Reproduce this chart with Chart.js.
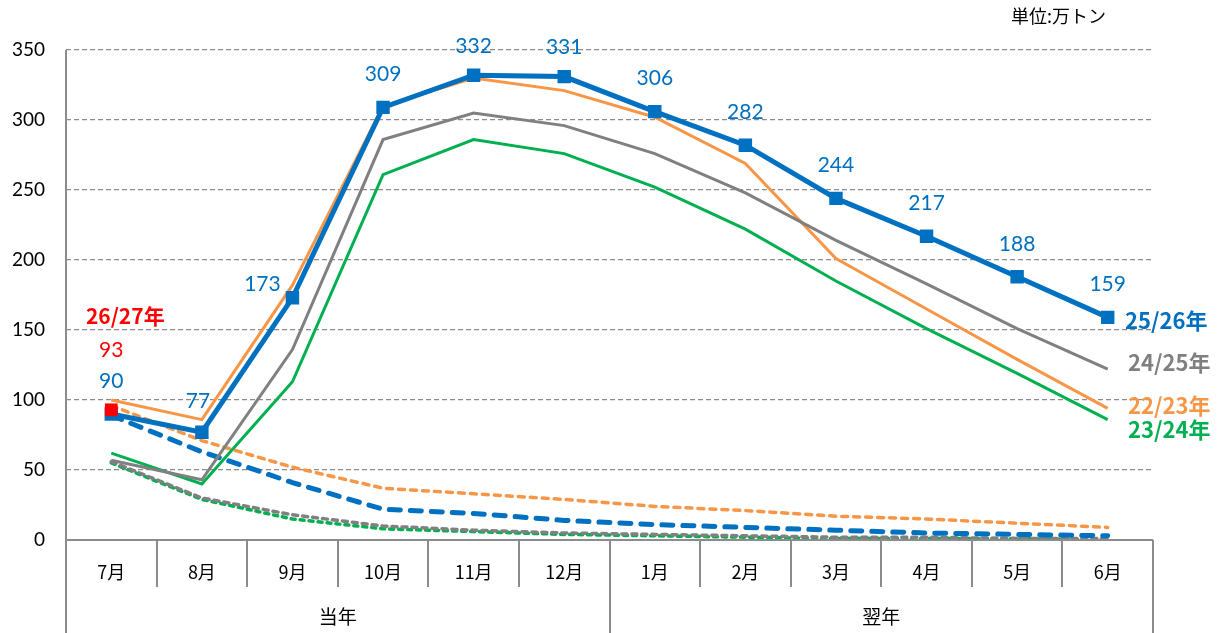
<!DOCTYPE html>
<html><head><meta charset="utf-8">
<script src="https://cdn.jsdelivr.net/npm/chart.js@4"></script>
<style>html,body{margin:0;padding:0;background:#fff;}#wrap{width:1218px;height:633px;position:relative;}</style>
</head><body><div id="wrap"><canvas id="c" width="1218" height="633"></canvas></div>
<script>
const months = ['7月','8月','9月','10月','11月','12月','1月','2月','3月','4月','5月','6月'];
const groups = ['当年','翌年'];
const yTicks = [0,50,100,150,200,250,300,350];
const s2526 = [90,77,173,309,332,331,306,282,244,217,188,159];
const s2425 = [57,43,136,286,305,296,276,248,214,183,151,122];
const s2223 = [100,86,182,310,330,321,302,269,201,165,129,94];
const s2324 = [62,40,113,261,286,276,252,222,185,151,119,86];
const d2223 = [96,71,52,37,33,29,24,21,17,15,12,9];
const d2526 = [89,63,41,22,19,14,11,9,7,5,4,3];
const d2425 = [56,30,18,10,7,5,4,3,2,2,1,1];
const d2324 = [55,29,15,8,6,4,3,2,1,1,1,0];
const s2627 = [93,null,null,null,null,null,null,null,null,null,null,null];
const seriesNames = ['25/26年','24/25年','22/23年','23/24年','26/27年'];
const unitText = '単位:万トン';

const BLUE='#0070C0', ORANGE='#F79646', GRAY='#808080', GREEN='#00B050', RED='#FF0000';
const FONT = "Lato, 'Noto Sans CJK JP', sans-serif";
const JFONT = "'Noto Sans CJK JP', sans-serif";

function ln(data,color,width,order,dash){
  return {data, borderColor:color, backgroundColor:color, borderWidth:width, pointRadius:0, order, borderDash:dash||[], tension:0, spanGaps:false, borderCapStyle:dash?'round':'butt'};
}
const datasets = [
  ln(d2324,GREEN,3.5,9,[4,5]),
  ln(d2425,GRAY,3.5,8,[5,5]),
  ln(d2223,ORANGE,3.5,7,[6,6]),
  ln(d2526,BLUE,5,6,[11,10]),
  ln(s2324,GREEN,3,5),
  ln(s2223,ORANGE,3,4),
  ln(s2425,GRAY,3,3),
  Object.assign(ln(s2526,BLUE,5,2),{pointRadius:9.5,pointStyle:'rect',pointBorderWidth:0}),
  Object.assign(ln(s2627,RED,2,1),{pointRadius:9,pointStyle:'rect',pointBorderWidth:0})
];

const overlay = {
  id:'overlay',
  afterDraw(chart){
    const ctx=chart.ctx, x=chart.scales.x, y=chart.scales.y, a=chart.chartArea;
    const n=months.length, w=(a.right-a.left)/n;
    ctx.save();
    ctx.strokeStyle='#8c8c8c'; ctx.lineWidth=2; ctx.setLineDash([]);
    ctx.beginPath(); ctx.moveTo(a.left,a.bottom); ctx.lineTo(a.right,a.bottom); ctx.stroke();
    ctx.beginPath(); ctx.moveTo(a.left,a.top); ctx.lineTo(a.left,633); ctx.stroke();
    for(let i=1;i<=n;i++){
      const bx=Math.round(a.left+i*w);
      const full=(i===6||i===12);
      ctx.beginPath(); ctx.moveTo(bx,a.bottom); ctx.lineTo(bx,full?633:a.bottom+47); ctx.stroke();
    }
    ctx.fillStyle='#000'; ctx.textAlign='center'; ctx.textBaseline='middle';
    ctx.font='18px '+JFONT;
    months.forEach((m,i)=>ctx.fillText(m,x.getPixelForValue(i),a.bottom+32));
    ctx.font='19px '+JFONT;
    ctx.fillText(groups[0],a.left+3*w,a.bottom+77);
    ctx.fillText(groups[1],a.left+9*w,a.bottom+77);
    ctx.font='21px '+FONT; ctx.fillStyle=BLUE;
    s2526.forEach((v,i)=>{
      let px=x.getPixelForValue(i), py=y.getPixelForValue(v)-33;
      if(i===1){px-=4;py+=2;}
      if(i===2){px-=30;py+=19;}
      if(i===4||i===5){py+=4;}
      ctx.fillText(String(v),px,py);
    });
    ctx.fillStyle=RED;
    ctx.fillText(String(s2627[0]),x.getPixelForValue(0),y.getPixelForValue(s2627[0])-60);
    ctx.font='bold 21px '+JFONT;
    ctx.fillText(seriesNames[4],x.getPixelForValue(0)+14,y.getPixelForValue(s2627[0])-94);
    ctx.textAlign='left';
    ctx.font='bold 22px '+JFONT;
    const ex=a.right-28;
    ctx.fillStyle=BLUE; ctx.fillText(seriesNames[0],ex,y.getPixelForValue(s2526[11])+3);
    ctx.fillStyle=GRAY; ctx.fillText(seriesNames[1],ex+3,y.getPixelForValue(s2425[11])-7);
    ctx.fillStyle=ORANGE; ctx.fillText(seriesNames[2],ex+3,y.getPixelForValue(s2223[11])-3);
    ctx.fillStyle=GREEN; ctx.fillText(seriesNames[3],ex+3,y.getPixelForValue(s2324[11])+10);
    ctx.fillStyle='#000'; ctx.font='18px '+JFONT; ctx.textAlign='left';
    ctx.fillText(unitText,1011,16);
    ctx.restore();
  }
};

new Chart(document.getElementById('c'),{
  type:'line',
  data:{labels:months,datasets},
  options:{
    responsive:false, animation:false, devicePixelRatio:1,
    layout:{padding:{top:50,bottom:93,right:65,left:0}},
    plugins:{legend:{display:false},tooltip:{enabled:false}},
    scales:{
      x:{type:'category',display:false,offset:true},
      y:{min:0,max:350,
        afterFit(s){s.width=66;},
        afterBuildTicks(s){s.ticks=yTicks.map(v=>({value:v}));},
        border:{display:false,dash:[5,3]},
        grid:{color:'#8c8c8c',lineWidth:1.2,drawTicks:false},
        ticks:{padding:21,color:'#000',font:{family:FONT,size:19}}
      }
    }
  },
  plugins:[overlay]
});
</script>
</body></html>
